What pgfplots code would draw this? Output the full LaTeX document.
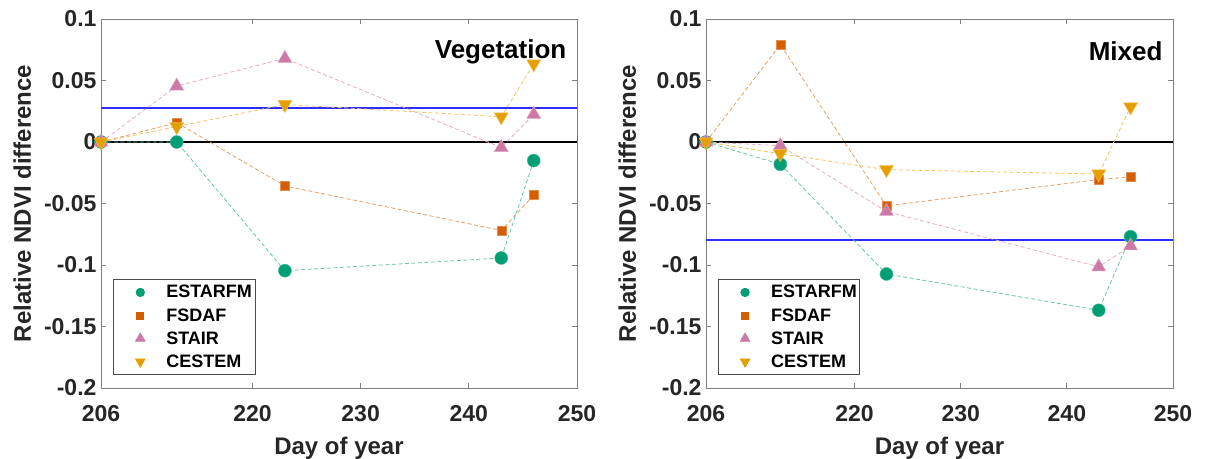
\documentclass[border=0pt]{standalone}
\usepackage{pgfplots}
\pgfplotsset{compat=1.18}
\usepackage{fontspec}
\setmainfont{Liberation Sans}
\definecolor{cE}{RGB}{0,158,115}
\definecolor{cF}{RGB}{213,94,0}
\definecolor{cS}{RGB}{204,121,167}
\definecolor{cC}{RGB}{230,159,0}
\definecolor{refblue}{RGB}{45,45,255}
\definecolor{axgray}{RGB}{128,128,128}

\pgfplotsset{
  myaxis/.style={
    scale only axis, width=#1, height=369pt,
    xmin=206, xmax=250, ymin=-0.2, ymax=0.1,
    xtick={206,220,230,240,250},
    ytick={-0.2,-0.15,-0.1,-0.05,0,0.05,0.1},
    yticklabels={-0.2,-0.15,-0.1,-0.05,0,0.05,0.1},
    xticklabels={206,220,230,240,250},
    tick align=inside, major tick length=5pt,
    axis line style={axgray, line width=0.9pt},
    tick style={axgray, line width=0.9pt},
    ticklabel style={font=\fontsize{23}{26}\selectfont\bfseries, text=black!85},
    yticklabel style={xshift=-1pt},
    xticklabel style={yshift=-14pt},
    xlabel={Day of year},
    ylabel={Relative NDVI difference},
    label style={font=\fontsize{24}{28}\selectfont\bfseries, text=black!85},
    xlabel style={yshift=-8pt},
    ylabel style={yshift=6pt},
    clip=false,
    legend cell align=left,
    legend style={at={(0.025,0.035)}, anchor=south west, draw=black!70, line width=0.8pt,
      font=\fontsize{18}{22}\selectfont\bfseries, row sep=5pt, inner xsep=1pt, inner ysep=4pt},
  },
  ser/.style={dashed, dash pattern=on 4pt off 2.5pt, line width=0.8pt},
  hblue/.style={color=refblue, draw=refblue, solid, line width=2.1pt, mark=none, forget plot},
  limg/.style={legend image code/.code={\path[draw=none] (0pt,0pt) -- (50pt,0pt); \path[##1, draw=none] plot coordinates {(26pt,0pt)};}},
}

\begin{document}
\begin{tikzpicture}
\useasboundingbox (-101pt,-70pt) rectangle (1113pt,388pt);

% ---------------- Left: Vegetation ----------------
\begin{axis}[myaxis=476pt, at={(0pt,0pt)}, anchor=south west]
\addplot[hblue] table {
x y
206 0.0278
250 0.0278
};
\addplot[color=black, line width=1.8pt, forget plot] coordinates {(206,0) (250,0)};

\addplot[ser, cE!60, mark=*, mark size=6.5pt, mark options={solid, fill=cE, draw=cE!70!white, line width=0.5pt}, forget plot]
 coordinates {(206,0) (213,0) (223,-0.1046) (243,-0.0943) (246,-0.0151)};
\addplot[ser, cF!60, mark=square*, mark size=4.5pt, mark options={solid, fill=cF, draw=cF!70!white, line width=0.5pt}, forget plot]
 coordinates {(206,0) (213,0.0157) (223,-0.0357) (243,-0.0719) (246,-0.0432)};
\addplot[ser, cS!60, mark=triangle*, mark size=8pt, mark options={solid, fill=cS, draw=cS!70!white, line width=0.5pt}, forget plot]
 coordinates {(206,0) (213,0.0455) (223,0.068) (243,-0.0045) (246,0.0225)};
\addplot[ser, cC!60, mark=triangle*, mark size=8pt, mark options={solid, fill=cC, draw=cC!70!white, line width=0.5pt, rotate=180}, forget plot]
 coordinates {(206,0) (213,0.0125) (223,0.0305) (243,0.0205) (246,0.0635)};

\addlegendimage{limg, only marks, mark=*, mark size=4.2pt, cE, mark options={fill=cE, draw=cE}}
\addlegendentry{ESTARFM}
\addlegendimage{limg, only marks, mark=square*, mark size=3.6pt, cF, mark options={fill=cF, draw=cF}}
\addlegendentry{FSDAF}
\addlegendimage{limg, only marks, mark=triangle*, mark size=5.5pt, cS, mark options={fill=cS, draw=cS}}
\addlegendentry{STAIR}
\addlegendimage{limg, only marks, mark=triangle*, mark size=5.5pt, cC, mark options={rotate=180, fill=cC, draw=cC}}
\addlegendentry{CESTEM}

\node[anchor=east, font=\fontsize{26}{30}\selectfont\bfseries, text=black] at (rel axis cs:0.985,0.912) {Vegetation};
\end{axis}

% ---------------- Right: Mixed ----------------
\begin{axis}[myaxis=467pt, at={(605pt,0pt)}, anchor=south west]
\addplot[hblue] table {
x y
206 -0.0795
250 -0.0795
};
\addplot[color=black, line width=1.8pt, forget plot] coordinates {(206,0) (250,0)};

\addplot[ser, cE!60, mark=*, mark size=6.5pt, mark options={solid, fill=cE, draw=cE!70!white, line width=0.5pt}, forget plot]
 coordinates {(206,0) (213,-0.0181) (223,-0.1073) (243,-0.1368) (246,-0.077)};
\addplot[ser, cF!60, mark=square*, mark size=4.5pt, mark options={solid, fill=cF, draw=cF!70!white, line width=0.5pt}, forget plot]
 coordinates {(206,0) (213,0.0792) (223,-0.0519) (243,-0.0305) (246,-0.0284)};
\addplot[ser, cS!60, mark=triangle*, mark size=8pt, mark options={solid, fill=cS, draw=cS!70!white, line width=0.5pt}, forget plot]
 coordinates {(206,0) (213,-0.003) (223,-0.0565) (243,-0.1015) (246,-0.0845)};
\addplot[ser, cC!60, mark=triangle*, mark size=8pt, mark options={solid, fill=cC, draw=cC!70!white, line width=0.5pt, rotate=180}, forget plot]
 coordinates {(206,0) (213,-0.0095) (223,-0.0225) (243,-0.026) (246,0.0285)};

\addlegendimage{limg, only marks, mark=*, mark size=4.2pt, cE, mark options={fill=cE, draw=cE}}
\addlegendentry{ESTARFM}
\addlegendimage{limg, only marks, mark=square*, mark size=3.6pt, cF, mark options={fill=cF, draw=cF}}
\addlegendentry{FSDAF}
\addlegendimage{limg, only marks, mark=triangle*, mark size=5.5pt, cS, mark options={fill=cS, draw=cS}}
\addlegendentry{STAIR}
\addlegendimage{limg, only marks, mark=triangle*, mark size=5.5pt, cC, mark options={rotate=180, fill=cC, draw=cC}}
\addlegendentry{CESTEM}

\node[anchor=east, font=\fontsize{26}{30}\selectfont\bfseries, text=black] at (rel axis cs:0.985,0.912) {Mixed};
\end{axis}
\end{tikzpicture}
\end{document}
